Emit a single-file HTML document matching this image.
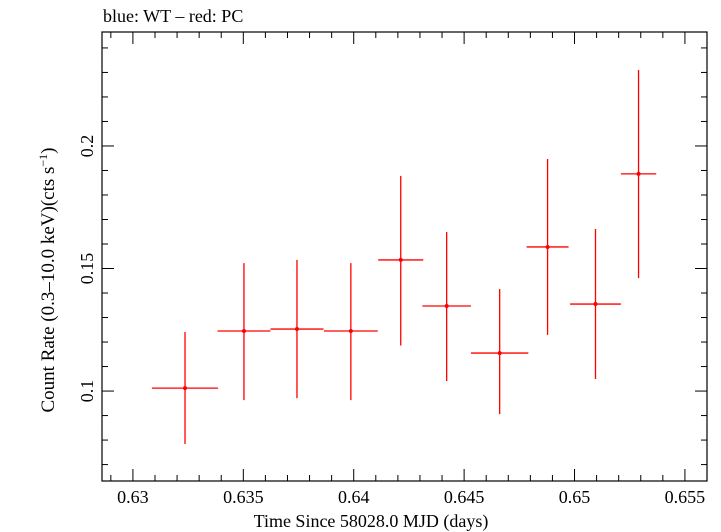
<!DOCTYPE html>
<html><head><meta charset="utf-8"><style>
body{margin:0;background:#fff;}
svg{display:block;font-family:"Liberation Serif",serif;}
</style></head><body>
<svg id="chart" width="721" height="532" viewBox="0 0 721 532" xmlns="http://www.w3.org/2000/svg">
<text x="103" y="22" font-size="18">blue: WT – red: PC</text>
<rect x="102" y="32" width="605" height="449" fill="none" stroke="#000" stroke-width="1.2"/>
<g id="ticks"></g>
<g id="marks"></g>
<text x="371" y="527" font-size="18" text-anchor="middle">Time Since 58028.0 MJD (days)</text>
<text transform="translate(54,280) rotate(-90)" font-size="19" text-anchor="middle">Count Rate (0.3–10.0 keV)(cts s<tspan dy="-7" font-size="12">−1</tspan><tspan dy="7">)</tspan></text>
</svg>
<script>
const times=[0.63236,0.63503,0.63743,0.63987,0.64213,0.64421,0.64661,0.64878,0.65095,0.65290];
const halfWidths=[0.0015,0.0012,0.0012,0.00122,0.00102,0.0011,0.0013,0.00095,0.00115,0.0008];
const rates=[0.1012,0.1245,0.1253,0.1245,0.1535,0.1347,0.1155,0.1588,0.1355,0.1886];
const rateLo=[0.0784,0.0963,0.0971,0.0963,0.1186,0.1041,0.0906,0.1229,0.1049,0.1461];
const rateHi=[0.1241,0.1522,0.1535,0.1522,0.1878,0.1649,0.1416,0.1947,0.1661,0.2310];
const xTickLabels=["0.63","0.635","0.64","0.645","0.65","0.655"];
const yTickLabels=["0.1","0.15","0.2"];

const NS="http://www.w3.org/2000/svg";
const L=102,R=707,T=32,B=481;
const xMin=0.6286,xMax=0.656,yMin=0.0633,yMax=0.2465;
const sx=v=>L+(v-xMin)/(xMax-xMin)*(R-L);
const sy=v=>B-(v-yMin)/(yMax-yMin)*(B-T);
function mk(tag,attrs,parent){const e=document.createElementNS(NS,tag);for(const k in attrs)e.setAttribute(k,attrs[k]);parent.appendChild(e);return e;}
const tg=document.getElementById('ticks');
for(let i=629;i<=655;i++){const v=i/1000;const x=sx(v);const major=i%5===0;const len=major?12:6;
 let l=mk('line',{x1:x,x2:x,y1:B,y2:B-len,stroke:'#000','stroke-width':1},tg);
 l=mk('line',{x1:x,x2:x,y1:T,y2:T+len,stroke:'#000','stroke-width':1},tg);}
xTickLabels.forEach(s=>{const t=mk('text',{x:sx(parseFloat(s)),y:503,'font-size':18,'text-anchor':'middle'},tg);t.textContent=s;
 });
for(let i=7;i<=24;i++){const v=i/100;const y=sy(v);const major=i%5===0;const len=major?12:6;
 let l=mk('line',{x1:L,x2:L+len,y1:y,y2:y,stroke:'#000','stroke-width':1},tg);
 l=mk('line',{x1:R,x2:R-len,y1:y,y2:y,stroke:'#000','stroke-width':1},tg);}
yTickLabels.forEach(s=>{const y=sy(parseFloat(s));const t=mk('text',{transform:`translate(93,${y}) rotate(-90)`,'font-size':18,'text-anchor':'middle'},tg);t.textContent=s;
 });
const mg=document.getElementById('marks');
times.forEach((t,i)=>{const g=mk('g',{},mg);
 mk('line',{x1:sx(t-halfWidths[i]),x2:sx(t+halfWidths[i]),y1:sy(rates[i]),y2:sy(rates[i]),stroke:'#f00','stroke-width':1.3},g);
 mk('line',{x1:sx(t),x2:sx(t),y1:sy(rateLo[i]),y2:sy(rateHi[i]),stroke:'#f00','stroke-width':1.3},g);
 mk('circle',{cx:sx(t),cy:sy(rates[i]),r:2,fill:'#f00'},g);});
</script>
</body></html>
